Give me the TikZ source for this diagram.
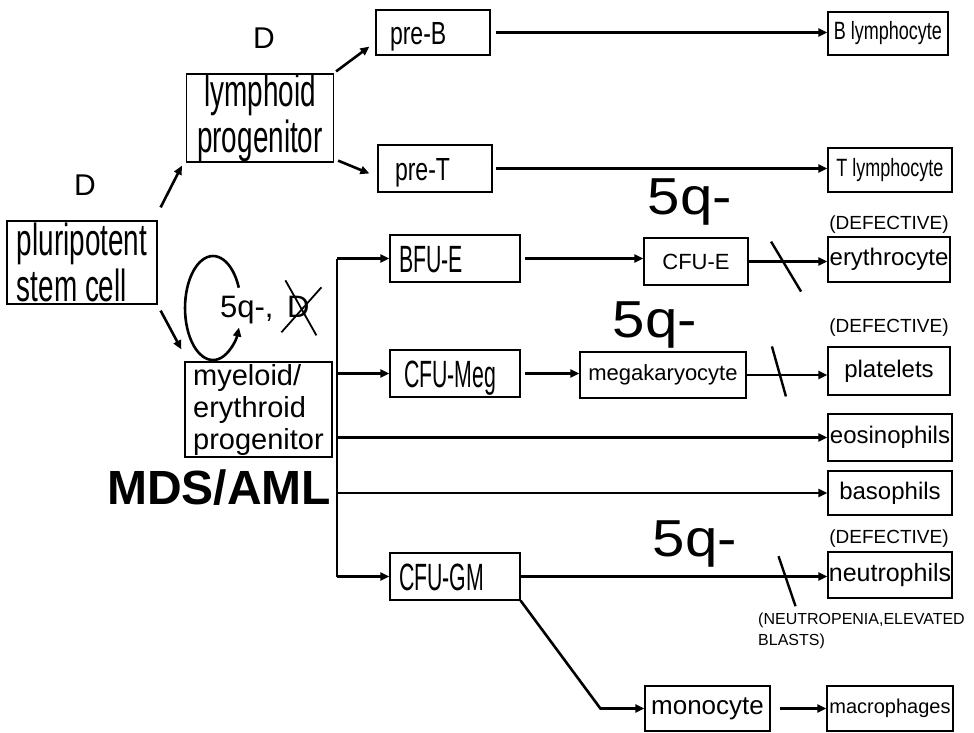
\documentclass[tikz,border=0pt]{standalone}
\usepackage{fontspec}
\setmainfont{Liberation Sans}
\newfontfamily\condf[FakeStretch=0.62]{Liberation Sans}
\newfontfamily\narrf[FakeStretch=0.56]{Liberation Sans}
\newfontfamily\semif[FakeStretch=0.72]{Liberation Sans}
\newfontfamily\widef[FakeStretch=1.12]{Liberation Sans}
\usetikzlibrary{arrows.meta,calc}
\newcommand{\fsz}[2]{\fontsize{#1}{#2}\selectfont}

\begin{document}
\begin{tikzpicture}[x=1pt,y=-1pt,>={Triangle[length=9pt,width=8pt]},
  cell/.style={draw,line width=1.2pt,inner sep=0pt,align=center},
  flow/.style={->,line width=2.6pt},
  cut/.style={line width=2.4pt},
  big/.style={font=\widef\fsz{52}{54}},
  note/.style={font=\fsz{19}{21}}]
\useasboundingbox[fill=white] (0,0) rectangle (974,732);
% Progenitors on the left.
\node[cell,align=left,minimum width=150pt,minimum height=83pt,font=\condf\fsz{45}{46}] (stem) at (82,262.5) {pluripotent\\stem cell};
\node[cell,minimum width=147pt,minimum height=88pt,font=\condf\fsz{45}{46}] (lymph) at (260,118) {lymphoid\\progenitor};
\node[cell,align=left,minimum width=147pt,minimum height=95pt,font=\fsz{29}{32}] (myel) at (258.5,409.5) {myeloid/\\erythroid\\progenitor};
\node[font=\fsz{30}{32}] (dstem) at (85,185) {D};
\node[font=\fsz{30}{32}] (dlymph) at (264,38) {D};
\node[font=\bfseries\fsz{48}{50},anchor=base] (mds) at (219,504) {MDS/AML};
% Lymphoid line.
\node[cell,align=left,text width=86pt,inner xsep=14pt,minimum height=45pt,text height=23pt,text depth=0pt,font=\semif\fsz{32}{34}] (preB) at (433,32.5) {pre-B};
\node[cell,align=left,text width=80pt,inner xsep=17pt,minimum height=47pt,text height=23pt,text depth=0pt,font=\semif\fsz{32}{34}] (preT) at (435,168.5) {pre-T};
\node[cell,minimum width=120pt,minimum height=43pt,font=\semif\fsz{25}{27}] (Blym) at (888,33.5) {B lymphocyte};
\node[cell,minimum width=124pt,minimum height=44pt,font=\semif\fsz{25}{27}] (Tlym) at (890,170) {T lymphocyte};
% Myeloid line.
\node[cell,align=left,text width=112pt,inner xsep=9pt,minimum height=47pt,text height=27pt,text depth=0pt,font=\narrf\fsz{38}{40}] (bfue) at (455,258.5) {BFU-E};
\node[cell,minimum width=104pt,minimum height=47pt,font=\fsz{22}{24}] (cfue) at (696,261.5) {CFU-E};
\node[cell,minimum width=122pt,minimum height=45pt,font=\fsz{24}{26}] (ery) at (889,259.5) {erythrocyte};
\node[cell,align=left,text width=102pt,inner xsep=14pt,minimum height=47pt,text height=27pt,text depth=0pt,font=\narrf\fsz{38}{40}] (cfumeg) at (455,373.5) {CFU-Meg};
\node[cell,minimum width=166pt,minimum height=46pt,font=\fsz{22}{24}] (mega) at (663,375) {megakaryocyte};
\node[cell,minimum width=122pt,minimum height=48pt,font=\fsz{24}{26}] (plat) at (889,371) {platelets};
\node[cell,minimum width=124pt,minimum height=47pt,font=\fsz{24}{26}] (eos) at (890,437.5) {eosinophils};
\node[cell,minimum width=124pt,minimum height=44pt,font=\fsz{24}{26}] (baso) at (890,493) {basophils};
\node[cell,align=left,text width=112pt,inner xsep=9pt,minimum height=47pt,text height=27pt,text depth=0pt,font=\narrf\fsz{38}{40}] (cfugm) at (455,576.5) {CFU-GM};
\node[cell,minimum width=124pt,minimum height=46pt,font=\fsz{25}{27}] (neut) at (890,575) {neutrophils};
\node[cell,minimum width=125pt,minimum height=45pt,font=\fsz{26}{28}] (mono) at (707.5,708.5) {monocyte};
\node[cell,minimum width=126pt,minimum height=45pt,font=\fsz{20}{22}] (macro) at (890,708.5) {macrophages};
% Labels.
\node[big] (fq1) at (690,202) {5q-};
\node[big] (fq2) at (655,325) {5q-};
\node[big] (fq3) at (695,544) {5q-};
\node[note] (def1) at (889,225) {(DEFECTIVE)};
\node[note] (def2) at (889,328) {(DEFECTIVE)};
\node[note] (def3) at (889,539) {(DEFECTIVE)};
\node[font=\fsz{16}{21},align=left,anchor=north west,inner sep=0pt] (neutro) at (758,613) {(NEUTROPENIA,ELEVATED\\BLASTS)};
% Self-renewal loop.
\node[font=\fsz{31}{32},anchor=base west,inner sep=0pt] (loss) at (220,317) {5q-,};
\node[font=\fsz{31}{32},anchor=base west,inner sep=0pt] (dlost) at (287,317) {D};
\draw[line width=1.8pt] ($(dlost.center)+(-13,-26)$) -- ($(dlost.center)+(18,29)$);
\draw[line width=1.8pt] ($(dlost.center)+(23,-19)$) -- ($(dlost.center)+(-17,26)$);
\coordinate (loopc) at (213,308);
\draw[flow] ($(loopc)+(25.8,-20.3)$) arc[start angle=-23,end angle=-338,x radius=28,y radius=52];
% Branching from the stem cell.
\draw[flow] ([shift={(3,-13)}]stem.north east) -- ([shift={(-4,3)}]lymph.south west);
\draw[flow] ([shift={(3,6)}]stem.south east) -- ([shift={(-3,-12)}]myel.north west);
\draw[flow] ([shift={(2,-2)}]lymph.north east) -- ([shift={(-6,-9)}]preB.south west);
\draw[flow] ([shift={(4,-2)}]lymph.south east) -- ([shift={(-8,5)}]preT.west);
\draw[flow,shorten <=5pt] (preB.east) -- (preB.east -| Blym.west);
\draw[flow,shorten <=3pt] (preT.east) -- (preT.east -| Tlym.west);
% Myeloid bus.
\coordinate (bustop) at (337,258.5);
\coordinate (busbot) at (337,576.5);
\draw[line width=2.6pt] (bustop) -- (busbot);
\draw[flow] (bustop) -- (bfue.west);
\draw[flow] (cfumeg.west -| bustop) -- (cfumeg.west);
\draw[flow] (eos.west -| bustop) -- (eos.west);
\draw[flow] (baso.west -| bustop) -- (baso.west);
\draw[flow] (busbot) -- (cfugm.west);
\draw[flow,shorten <=4pt] (bfue.east) -- (bfue.east -| cfue.west);
\draw[flow] (cfue.east) -- (cfue.east -| ery.west);
\draw[flow,shorten <=4pt] (cfumeg.east) -- (cfumeg.east -| mega.west);
\draw[flow] (mega.east) -- (mega.east -| plat.west);
\draw[flow] (cfugm.east) -- (cfugm.east -| neut.west);
\draw[flow] (cfugm.south east) -- ($(mono.west)+(-44,0)$) -- (mono.west);
\draw[flow,shorten <=9pt] (mono.east) -- (macro.west);
% Blocked steps.
\coordinate (cut1) at ($(cfue.east)!0.45!(ery.west)$);
\coordinate (cut2) at ($(mega.east)!0.4!(plat.west)$);
\coordinate (cut3) at ($(cfugm.east)!0.87!(neut.west)$);
\draw[cut] ($(cut1)+(-13,-19)$) -- ($(cut1)+(17,31)$);
\draw[cut] ($(cut2)+(-7,-27)$) -- ($(cut2)+(7,23)$);
\draw[cut] ($(cut3)+(-9,-19)$) -- ($(cut3)+(8,31)$);
\end{tikzpicture}
\end{document}
